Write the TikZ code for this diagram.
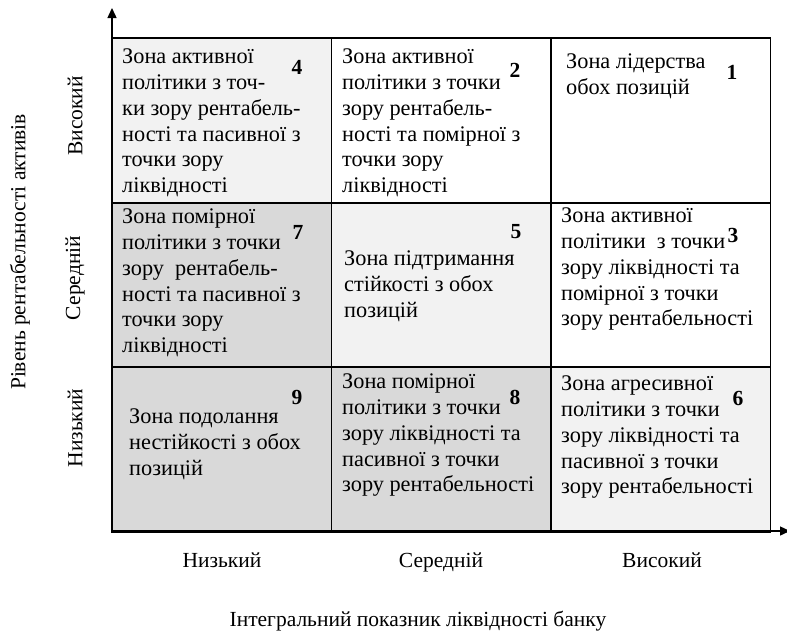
\documentclass[tikz,border=0pt]{standalone}
\usepackage{fontspec}
\setmainfont{Liberation Serif}
\newfontfamily\tnr{Liberation Serif}
\usetikzlibrary{arrows.meta}
\definecolor{lightcell}{HTML}{F2F2F2}
\definecolor{darkcell}{HTML}{D9D9D9}
\newcommand{\zlines}[1]{{\tnr\fontsize{22.3}{25.8}\selectfont\begin{tabular}{@{}l@{}}#1\end{tabular}}}
\begin{document}
\begin{tikzpicture}[x=1pt,y=-1pt,
  cell/.style={draw=black, line width=1.6pt, minimum width=219.5pt, minimum height=164.5pt, inner sep=0pt, outer sep=0pt},
  ztext/.style={inner sep=0pt, anchor=north west},
  num/.style={inner sep=1pt, font=\tnr\fontsize{21.5}{24}\selectfont\bfseries},
  lbl/.style={inner sep=0pt, font=\tnr\fontsize{21.5}{25}\selectfont},
  axis/.style={line width=1.4pt, -{Triangle[length=10pt,width=9pt]}}]
\useasboundingbox (0,0) rectangle (787,635);
% cells
\node[cell, fill=lightcell] (c4) at (221.75,120.5) {};
\node[cell, fill=white]     (c2) at (441.25,120.5) {};
\node[cell, fill=white]     (c1) at (660.75,120.5) {};
\node[cell, fill=darkcell]  (c7) at (221.75,285) {};
\node[cell, fill=lightcell] (c5) at (441.25,285) {};
\node[cell, fill=white]     (c3) at (660.75,285) {};
\node[cell, fill=darkcell]  (c9) at (221.75,449.5) {};
\node[cell, fill=darkcell]  (c8) at (441.25,449.5) {};
\node[cell, fill=lightcell] (c6) at (660.75,449.5) {};
% texts (top = first baseline - 18.06)
\node[ztext] (t4) at (122,45.5) {\zlines{Зона активної\\політики з точ-\\ки зору рентабель-\\ності та пасивної з\\точки зору\\ліквідності}};
\node[ztext] (t2) at (342,45.5) {\zlines{Зона активної\\політики з точки\\зору рентабель-\\ності та помірної з\\точки зору\\ліквідності}};
\node[ztext] (t1) at (566,50.5) {\zlines{Зона лідерства\\обох позицій}};
\node[ztext] (t7) at (122,205.5) {\zlines{Зона помірної\\політики з точки\\зору\ \ рентабель-\\ності та пасивної з\\точки зору\\ліквідності}};
\node[ztext] (t5) at (344,247.5) {\zlines{Зона підтримання\\стійкості з обох\\позицій}};
\node[ztext] (t3) at (561,204.5) {\zlines{Зона активної\\політики\ \ з точки\\зору ліквідності та\\помірної з точки\\зору рентабельності}};
\node[ztext] (t9) at (129,405.5) {\zlines{Зона подолання\\нестійкості з обох\\позицій}};
\node[ztext] (t8) at (342,370.5) {\zlines{Зона помірної\\політики з точки\\зору ліквідності та\\пасивної з точки\\зору рентабельності}};
\node[ztext] (t6) at (561,372.5) {\zlines{Зона агресивної\\політики з точки\\зору ліквідності та\\пасивної з точки\\зору рентабельності}};
% numbers
\node[num, fill=lightcell] (n4) at (297,67) {4};
\node[num, fill=white]     (n2) at (515,70) {2};
\node[num, fill=white]     (n1) at (732,72) {1};
\node[num, fill=darkcell]  (n7) at (298,232) {7};
\node[num, fill=lightcell] (n5) at (516,232) {5};
\node[num, fill=white]     (n3) at (733,235) {3};
\node[num, fill=darkcell]  (n9) at (297,397) {9};
\node[num, fill=darkcell]  (n8) at (515,397) {8};
\node[num, fill=lightcell] (n6) at (738,398) {6};
% axes
\coordinate (origin) at (112,531);
\coordinate (ytop) at (112,8);
\coordinate (xend) at (790,531);
\draw[axis] (origin) -- (ytop);
\draw[axis] (origin) -- (xend);
% axis labels
\node[lbl, rotate=90] (ytitle) at (20,252) {Рівень рентабельності активів};
\node[lbl, rotate=90] (yhigh) at (75,116) {Високий};
\node[lbl, rotate=90] (ymid) at (75,278) {Середній};
\node[lbl, rotate=90] (ylow) at (75,428) {Низький};
\node[lbl, anchor=base] (xlow) at (222,567) {Низький};
\node[lbl, anchor=base] (xmid) at (441,567) {Середній};
\node[lbl, anchor=base] (xhigh) at (662,567) {Високий};
\node[lbl, anchor=base] (xtitle) at (418,626) {Інтегральний показник ліквідності банку};
\end{tikzpicture}
\end{document}
